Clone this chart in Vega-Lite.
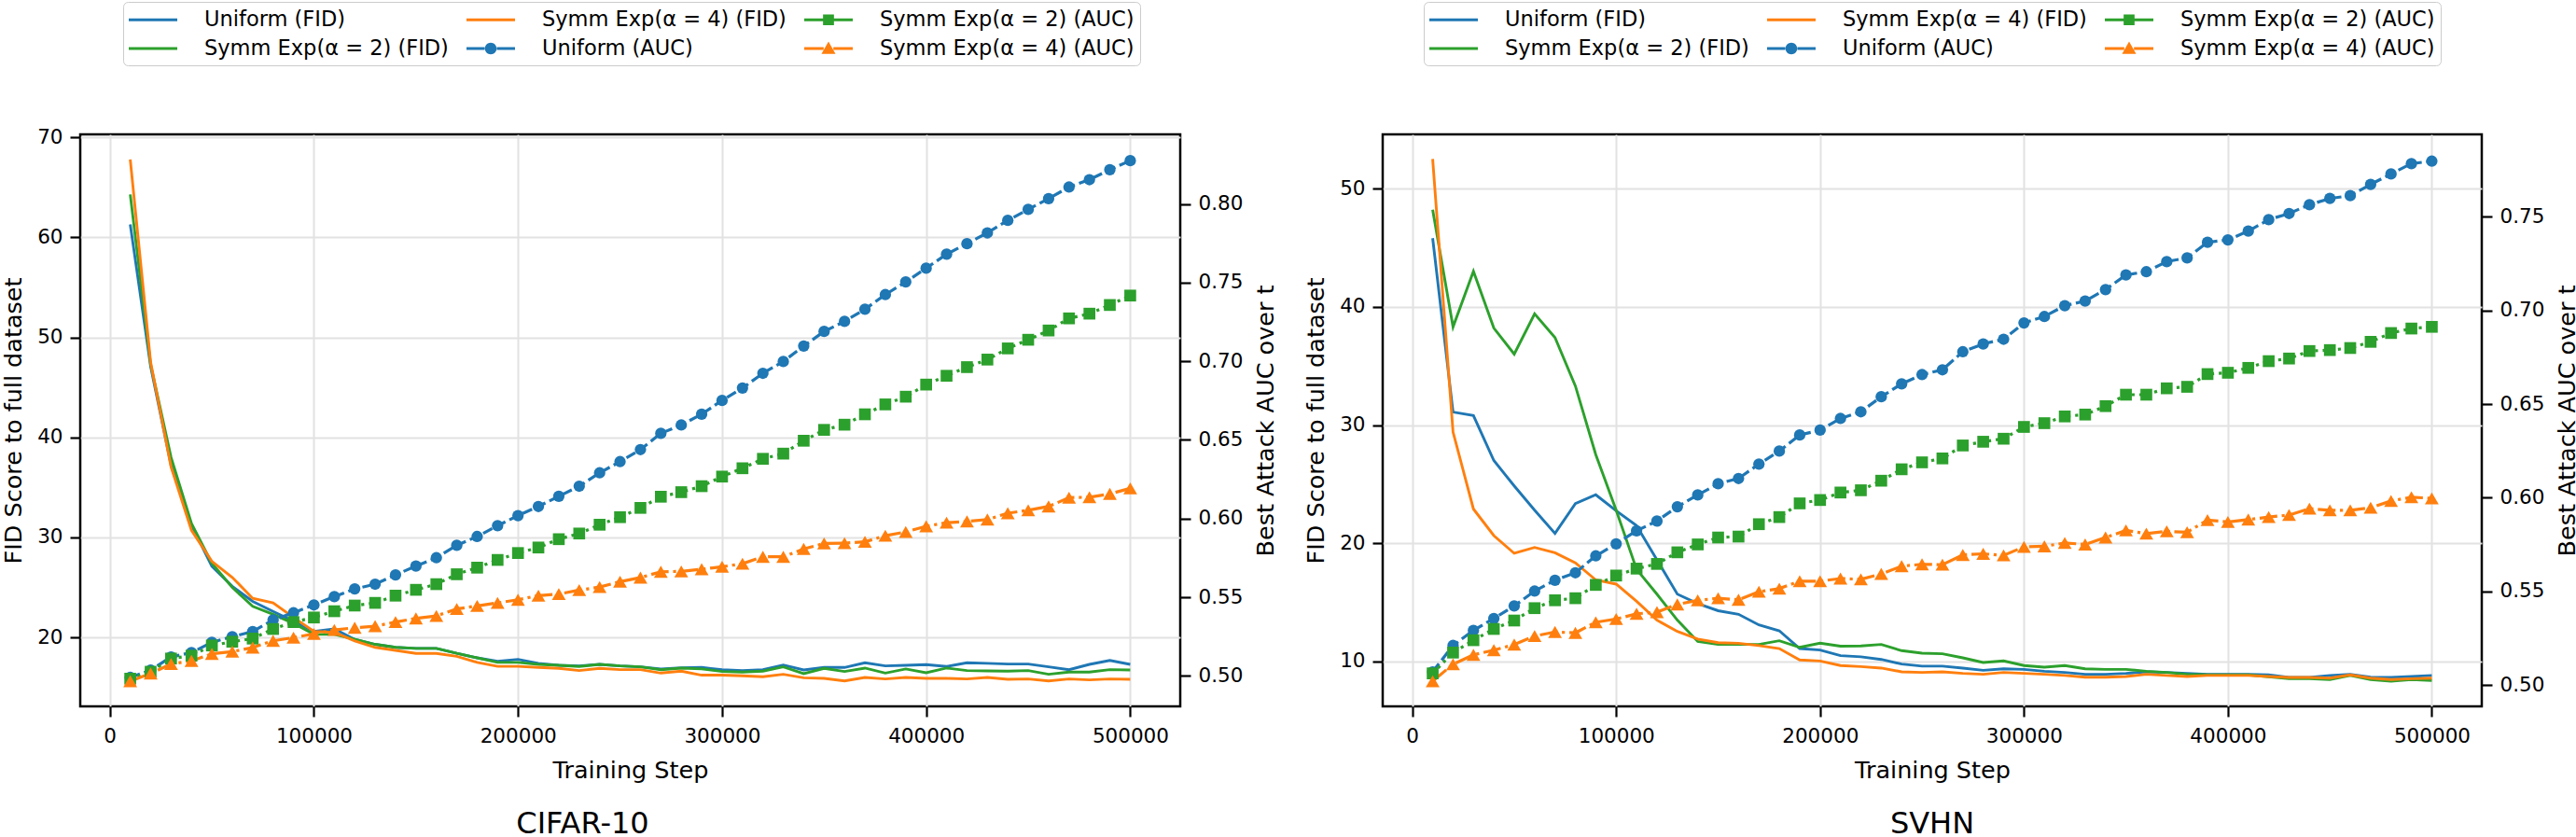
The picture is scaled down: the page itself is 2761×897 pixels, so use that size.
{
"$schema": "https://vega.github.io/schema/vega-lite/v6.json",
"padding": {"left": 1, "top": 0, "right": 0, "bottom": 0},
"bounds": "flush",
"spacing": 217,
"config": {
  "font": "DejaVu Sans",
  "view": {"stroke": "black", "strokeWidth": 2.5},
  "axis": {"labelFont": "DejaVu Sans", "titleFont": "DejaVu Sans", "labelFontSize": 21.5, "titleFontSize": 25.5, "titleFontWeight": "normal", "labelColor": "black", "titleColor": "black", "tickColor": "black", "tickSize": 11, "tickWidth": 2.2, "domain": false, "labelPadding": 8, "gridColor": "#e2e2e2", "gridWidth": 2, "labelFlush": false},
  "title": {"font": "DejaVu Sans", "fontSize": 32, "fontWeight": "normal", "color": "black"},
  "legend": {"labelFont": "DejaVu Sans", "labelFontSize": 22.5, "labelColor": "black", "labelLimit": 500}
},
"datasets": {
"cifar": [
{"step":10000,"uF":61.3,"e2F":64.3,"e4F":67.8,"uA":0.499,"e2A":0.4982,"e4A":0.4966},
{"step":20000,"uF":47.1,"e2F":47.3,"e4F":47.5,"uA":0.5036,"e2A":0.5026,"e4A":0.5015},
{"step":30000,"uF":37.2,"e2F":38.0,"e4F":37.05,"uA":0.512,"e2A":0.511,"e4A":0.5075},
{"step":40000,"uF":31.2,"e2F":31.4,"e4F":30.7,"uA":0.5148,"e2A":0.5128,"e4A":0.5095},
{"step":50000,"uF":27.1,"e2F":27.4,"e4F":27.6,"uA":0.5213,"e2A":0.5193,"e4A":0.514},
{"step":60000,"uF":25.1,"e2F":25.0,"e4F":26.0,"uA":0.5249,"e2A":0.5217,"e4A":0.5154},
{"step":70000,"uF":23.6,"e2F":23.1,"e4F":23.9,"uA":0.5282,"e2A":0.5237,"e4A":0.518},
{"step":80000,"uF":22.6,"e2F":22.3,"e4F":23.45,"uA":0.5356,"e2A":0.5298,"e4A":0.5223},
{"step":90000,"uF":21.6,"e2F":21.4,"e4F":22.0,"uA":0.5401,"e2A":0.5342,"e4A":0.5243},
{"step":100000,"uF":20.6,"e2F":20.3,"e4F":20.6,"uA":0.5451,"e2A":0.5371,"e4A":0.5267},
{"step":110000,"uF":20.85,"e2F":20.3,"e4F":20.5,"uA":0.5504,"e2A":0.5411,"e4A":0.5292},
{"step":120000,"uF":19.8,"e2F":19.8,"e4F":19.65,"uA":0.5553,"e2A":0.5447,"e4A":0.5306},
{"step":130000,"uF":19.3,"e2F":19.3,"e4F":19.0,"uA":0.5583,"e2A":0.5464,"e4A":0.5316},
{"step":140000,"uF":19.0,"e2F":19.0,"e4F":18.7,"uA":0.5642,"e2A":0.551,"e4A":0.5342},
{"step":150000,"uF":18.9,"e2F":18.9,"e4F":18.4,"uA":0.5698,"e2A":0.5547,"e4A":0.5365},
{"step":160000,"uF":18.9,"e2F":18.9,"e4F":18.4,"uA":0.5751,"e2A":0.5583,"e4A":0.5381},
{"step":170000,"uF":18.4,"e2F":18.4,"e4F":18.1,"uA":0.583,"e2A":0.5646,"e4A":0.5425},
{"step":180000,"uF":17.95,"e2F":17.95,"e4F":17.5,"uA":0.5886,"e2A":0.5688,"e4A":0.5445},
{"step":190000,"uF":17.6,"e2F":17.5,"e4F":17.1,"uA":0.5955,"e2A":0.5737,"e4A":0.5464},
{"step":200000,"uF":17.8,"e2F":17.5,"e4F":17.1,"uA":0.6019,"e2A":0.5781,"e4A":0.5484},
{"step":210000,"uF":17.4,"e2F":17.3,"e4F":17.0,"uA":0.6077,"e2A":0.5816,"e4A":0.551},
{"step":220000,"uF":17.2,"e2F":17.2,"e4F":16.9,"uA":0.6142,"e2A":0.5869,"e4A":0.552},
{"step":230000,"uF":17.15,"e2F":17.09,"e4F":16.68,"uA":0.6206,"e2A":0.5905,"e4A":0.5545},
{"step":240000,"uF":17.3,"e2F":17.3,"e4F":16.9,"uA":0.6291,"e2A":0.5961,"e4A":0.5565},
{"step":250000,"uF":17.15,"e2F":17.15,"e4F":16.77,"uA":0.6362,"e2A":0.6009,"e4A":0.5599},
{"step":260000,"uF":17.05,"e2F":17.05,"e4F":16.77,"uA":0.6439,"e2A":0.6068,"e4A":0.5625},
{"step":270000,"uF":16.84,"e2F":16.77,"e4F":16.43,"uA":0.6542,"e2A":0.6139,"e4A":0.5662},
{"step":280000,"uF":16.96,"e2F":16.93,"e4F":16.62,"uA":0.6595,"e2A":0.6168,"e4A":0.5664},
{"step":290000,"uF":16.99,"e2F":16.84,"e4F":16.22,"uA":0.6664,"e2A":0.6206,"e4A":0.5678},
{"step":300000,"uF":16.77,"e2F":16.59,"e4F":16.22,"uA":0.6751,"e2A":0.6267,"e4A":0.5694},
{"step":310000,"uF":16.68,"e2F":16.53,"e4F":16.15,"uA":0.683,"e2A":0.632,"e4A":0.5713},
{"step":320000,"uF":16.77,"e2F":16.62,"e4F":16.06,"uA":0.6924,"e2A":0.638,"e4A":0.5757},
{"step":330000,"uF":17.24,"e2F":17.05,"e4F":16.31,"uA":0.6999,"e2A":0.6413,"e4A":0.5757},
{"step":340000,"uF":16.74,"e2F":16.37,"e4F":15.96,"uA":0.7097,"e2A":0.6495,"e4A":0.5807},
{"step":350000,"uF":16.99,"e2F":16.9,"e4F":15.9,"uA":0.719,"e2A":0.6564,"e4A":0.5842},
{"step":360000,"uF":16.99,"e2F":16.59,"e4F":15.65,"uA":0.7254,"e2A":0.6597,"e4A":0.5844},
{"step":370000,"uF":17.46,"e2F":16.93,"e4F":15.99,"uA":0.7331,"e2A":0.6663,"e4A":0.5852},
{"step":380000,"uF":17.15,"e2F":16.43,"e4F":15.84,"uA":0.7424,"e2A":0.6726,"e4A":0.5891},
{"step":390000,"uF":17.21,"e2F":16.84,"e4F":15.99,"uA":0.7505,"e2A":0.6775,"e4A":0.5915},
{"step":400000,"uF":17.27,"e2F":16.46,"e4F":15.9,"uA":0.7592,"e2A":0.6852,"e4A":0.5951},
{"step":410000,"uF":17.09,"e2F":16.93,"e4F":15.9,"uA":0.7681,"e2A":0.6908,"e4A":0.5974},
{"step":420000,"uF":17.46,"e2F":16.68,"e4F":15.84,"uA":0.7748,"e2A":0.6963,"e4A":0.5982},
{"step":430000,"uF":17.4,"e2F":16.65,"e4F":15.99,"uA":0.7817,"e2A":0.7011,"e4A":0.5994},
{"step":440000,"uF":17.33,"e2F":16.62,"e4F":15.81,"uA":0.7896,"e2A":0.7082,"e4A":0.6034},
{"step":450000,"uF":17.33,"e2F":16.68,"e4F":15.84,"uA":0.7966,"e2A":0.7137,"e4A":0.6053},
{"step":460000,"uF":17.05,"e2F":16.31,"e4F":15.65,"uA":0.8034,"e2A":0.7196,"e4A":0.6077},
{"step":470000,"uF":16.77,"e2F":16.53,"e4F":15.84,"uA":0.8108,"e2A":0.7273,"e4A":0.6133},
{"step":480000,"uF":17.3,"e2F":16.53,"e4F":15.75,"uA":0.8155,"e2A":0.7303,"e4A":0.6136},
{"step":490000,"uF":17.7,"e2F":16.77,"e4F":15.84,"uA":0.8218,"e2A":0.7358,"e4A":0.6157},
{"step":500000,"uF":17.3,"e2F":16.74,"e4F":15.81,"uA":0.8276,"e2A":0.7418,"e4A":0.6192}
],
"svhn": [
{"step":10000,"uF":45.8,"e2F":48.2,"e4F":52.5,"uA":0.5071,"e2A":0.5063,"e4A":0.5021},
{"step":20000,"uF":31.1,"e2F":38.3,"e4F":29.4,"uA":0.5212,"e2A":0.5174,"e4A":0.5112},
{"step":30000,"uF":30.8,"e2F":43.0,"e4F":22.9,"uA":0.5292,"e2A":0.524,"e4A":0.5162},
{"step":40000,"uF":27.0,"e2F":38.2,"e4F":20.65,"uA":0.5356,"e2A":0.53,"e4A":0.5187},
{"step":50000,"uF":24.85,"e2F":36.0,"e4F":19.15,"uA":0.5423,"e2A":0.5345,"e4A":0.5217},
{"step":60000,"uF":22.8,"e2F":39.4,"e4F":19.65,"uA":0.5502,"e2A":0.5411,"e4A":0.5262},
{"step":70000,"uF":20.84,"e2F":37.4,"e4F":19.2,"uA":0.556,"e2A":0.5453,"e4A":0.5284},
{"step":80000,"uF":23.35,"e2F":33.3,"e4F":18.35,"uA":0.56,"e2A":0.5464,"e4A":0.5279},
{"step":90000,"uF":24.1,"e2F":27.5,"e4F":16.9,"uA":0.569,"e2A":0.5535,"e4A":0.5336},
{"step":100000,"uF":22.75,"e2F":22.8,"e4F":16.55,"uA":0.5754,"e2A":0.5585,"e4A":0.5353},
{"step":110000,"uF":21.5,"e2F":17.8,"e4F":15.1,"uA":0.5824,"e2A":0.5622,"e4A":0.5381},
{"step":120000,"uF":18.6,"e2F":15.7,"e4F":13.5,"uA":0.5876,"e2A":0.5647,"e4A":0.539},
{"step":130000,"uF":15.7,"e2F":13.5,"e4F":12.55,"uA":0.5952,"e2A":0.5709,"e4A":0.5431},
{"step":140000,"uF":14.9,"e2F":11.7,"e4F":11.9,"uA":0.6015,"e2A":0.5751,"e4A":0.5453},
{"step":150000,"uF":14.3,"e2F":11.45,"e4F":11.6,"uA":0.6075,"e2A":0.5788,"e4A":0.5464},
{"step":160000,"uF":14.0,"e2F":11.45,"e4F":11.55,"uA":0.6103,"e2A":0.5793,"e4A":0.5456},
{"step":170000,"uF":13.1,"e2F":11.45,"e4F":11.35,"uA":0.618,"e2A":0.5859,"e4A":0.5499},
{"step":180000,"uF":12.6,"e2F":11.76,"e4F":11.1,"uA":0.6249,"e2A":0.5897,"e4A":0.5515},
{"step":190000,"uF":11.1,"e2F":11.2,"e4F":10.13,"uA":0.6335,"e2A":0.597,"e4A":0.5555},
{"step":200000,"uF":10.97,"e2F":11.55,"e4F":10.05,"uA":0.6361,"e2A":0.5988,"e4A":0.5555},
{"step":210000,"uF":10.5,"e2F":11.3,"e4F":9.66,"uA":0.6423,"e2A":0.6028,"e4A":0.5569},
{"step":220000,"uF":10.4,"e2F":11.32,"e4F":9.57,"uA":0.6459,"e2A":0.604,"e4A":0.5565},
{"step":230000,"uF":10.18,"e2F":11.45,"e4F":9.45,"uA":0.6539,"e2A":0.6091,"e4A":0.5594},
{"step":240000,"uF":9.79,"e2F":10.92,"e4F":9.13,"uA":0.6608,"e2A":0.6152,"e4A":0.5635},
{"step":250000,"uF":9.61,"e2F":10.71,"e4F":9.08,"uA":0.6657,"e2A":0.6189,"e4A":0.5645},
{"step":260000,"uF":9.61,"e2F":10.66,"e4F":9.13,"uA":0.6683,"e2A":0.621,"e4A":0.5643},
{"step":270000,"uF":9.45,"e2F":10.31,"e4F":9.0,"uA":0.6779,"e2A":0.6279,"e4A":0.5695},
{"step":280000,"uF":9.26,"e2F":9.92,"e4F":8.92,"uA":0.6821,"e2A":0.6299,"e4A":0.5701},
{"step":290000,"uF":9.39,"e2F":10.05,"e4F":9.08,"uA":0.6846,"e2A":0.6315,"e4A":0.5693},
{"step":300000,"uF":9.34,"e2F":9.66,"e4F":9.0,"uA":0.6933,"e2A":0.6378,"e4A":0.5738},
{"step":310000,"uF":9.18,"e2F":9.52,"e4F":8.92,"uA":0.6967,"e2A":0.6398,"e4A":0.5741},
{"step":320000,"uF":9.08,"e2F":9.66,"e4F":8.82,"uA":0.7025,"e2A":0.6434,"e4A":0.5759},
{"step":330000,"uF":8.92,"e2F":9.39,"e4F":8.68,"uA":0.705,"e2A":0.6444,"e4A":0.5751},
{"step":340000,"uF":8.92,"e2F":9.34,"e4F":8.68,"uA":0.7111,"e2A":0.6489,"e4A":0.5788},
{"step":350000,"uF":9.0,"e2F":9.34,"e4F":8.74,"uA":0.7189,"e2A":0.655,"e4A":0.5826},
{"step":360000,"uF":9.13,"e2F":9.18,"e4F":8.92,"uA":0.7206,"e2A":0.655,"e4A":0.5809},
{"step":370000,"uF":9.08,"e2F":9.08,"e4F":8.82,"uA":0.726,"e2A":0.6584,"e4A":0.5821},
{"step":380000,"uF":9.0,"e2F":8.92,"e4F":8.74,"uA":0.728,"e2A":0.6592,"e4A":0.5816},
{"step":390000,"uF":8.92,"e2F":8.87,"e4F":8.82,"uA":0.7363,"e2A":0.666,"e4A":0.5881},
{"step":400000,"uF":8.92,"e2F":8.87,"e4F":8.82,"uA":0.7376,"e2A":0.6667,"e4A":0.5871},
{"step":410000,"uF":8.92,"e2F":8.87,"e4F":8.82,"uA":0.7423,"e2A":0.6693,"e4A":0.5884},
{"step":420000,"uF":8.87,"e2F":8.71,"e4F":8.74,"uA":0.7484,"e2A":0.6729,"e4A":0.5897},
{"step":430000,"uF":8.66,"e2F":8.55,"e4F":8.66,"uA":0.7517,"e2A":0.6743,"e4A":0.5908},
{"step":440000,"uF":8.66,"e2F":8.55,"e4F":8.66,"uA":0.7564,"e2A":0.6783,"e4A":0.5942},
{"step":450000,"uF":8.82,"e2F":8.48,"e4F":8.6,"uA":0.7597,"e2A":0.6788,"e4A":0.5933},
{"step":460000,"uF":8.92,"e2F":8.82,"e4F":8.87,"uA":0.7612,"e2A":0.6799,"e4A":0.5933},
{"step":470000,"uF":8.68,"e2F":8.48,"e4F":8.6,"uA":0.7672,"e2A":0.6832,"e4A":0.5947},
{"step":480000,"uF":8.66,"e2F":8.34,"e4F":8.48,"uA":0.7728,"e2A":0.6879,"e4A":0.5983},
{"step":490000,"uF":8.74,"e2F":8.48,"e4F":8.55,"uA":0.7783,"e2A":0.6903,"e4A":0.6003},
{"step":500000,"uF":8.82,"e2F":8.4,"e4F":8.6,"uA":0.7796,"e2A":0.6912,"e4A":0.5997}
]
},
"hconcat": [
{
  "width": 1179, "height": 613,
  "data": {"name": "cifar"},
  "title": {"text": "CIFAR-10", "orient": "bottom", "frame": "group", "anchor": "middle", "dx": -51, "offset": 29},
  "layer": [
    {
      "transform": [{"fold": ["uF", "e2F", "e4F"], "as": ["series", "value"]}],
      "mark": {"type": "line", "strokeWidth": 2.9},
      "encoding": {
        "x": {"field": "step", "type": "quantitative", "scale": {"domain": [-14500, 524500], "nice": false, "zero": false}, "axis": {"values": [0, 100000, 200000, 300000, 400000, 500000], "format": "d", "title": "Training Step", "grid": true, "labelPadding": 10, "titlePadding": 14}},
        "y": {"field": "value", "type": "quantitative", "scale": {"domain": [13.1, 70.3], "nice": false, "zero": false}, "axis": {"orient": "left", "title": "FID Score to full dataset", "values": [20, 30, 40, 50, 60, 70], "grid": true, "titlePadding": 12}},
        "stroke": {"field": "series", "type": "nominal", "scale": {"domain": ["uA", "e2A", "e4A", "uF", "e2F", "e4F"], "range": ["#1f77b4", "#2ca02c", "#ff7f0e", "#1f77b4", "#2ca02c", "#ff7f0e"]}, "legend": null}
      }
    },
    {
      "transform": [{"fold": ["uA", "e2A", "e4A"], "as": ["series", "value"]}],
      "encoding": {
        "x": {"field": "step", "type": "quantitative", "scale": {"domain": [-14500, 524500], "nice": false, "zero": false}, "axis": {"values": [0, 100000, 200000, 300000, 400000, 500000], "format": "d", "title": "Training Step", "grid": true, "labelPadding": 10, "titlePadding": 14}},
        "y": {"field": "value", "type": "quantitative", "scale": {"domain": [0.4806, 0.8443], "nice": false, "zero": false}, "axis": {"orient": "right", "title": "Best Attack AUC over t", "values": [0.5, 0.55, 0.6, 0.65, 0.7, 0.75, 0.8], "format": ".2f", "grid": false, "titleAngle": 270, "titleBaseline": "top", "titlePadding": 13}}
      },
      "layer": [
        {
          "mark": {"type": "line", "strokeWidth": 3.2},
          "encoding": {
            "stroke": {"field": "series", "type": "nominal", "scale": {"domain": ["uA", "e2A", "e4A", "uF", "e2F", "e4F"], "range": ["#1f77b4", "#2ca02c", "#ff7f0e", "#1f77b4", "#2ca02c", "#ff7f0e"]}, "legend": null},
            "strokeDash": {"field": "series", "type": "nominal", "scale": {"domain": ["uA", "e2A", "e4A"], "range": [[11, 4.8], [3.2, 5], [19, 4.8, 3.2, 4.8]]}, "legend": null}
          }
        },
        {
          "mark": {"type": "point", "filled": true, "opacity": 1, "strokeWidth": 0},
          "encoding": {
            "fill": {"field": "series", "type": "nominal", "scale": {"domain": ["uA", "e2A", "e4A", "uF", "e2F", "e4F"], "range": ["#1f77b4", "#2ca02c", "#ff7f0e", "#1f77b4", "#2ca02c", "#ff7f0e"]}, "legend": null},
            "shape": {"condition": [{"test": "datum.series === 'uA'", "value": "circle"}, {"test": "datum.series === 'e2A'", "value": "square"}], "value": "triangle-up"},
            "size": {"condition": [{"test": "datum.series === 'uA'", "value": 150}, {"test": "datum.series === 'e2A'", "value": 160}], "value": 220}
          }
        },
        {
          "transform": [{"filter": "false"}],
          "mark": {"type": "point", "filled": true, "opacity": 1},
          "encoding": {
            "color": {"field": "series", "type": "nominal", "scale": {"domain": ["uF", "e2F", "e4F", "uA", "e2A", "e4A"], "range": ["#1f77b4", "#2ca02c", "#ff7f0e", "#1f77b4", "#2ca02c", "#ff7f0e"]},
              "legend": {"orient": "none", "legendX": 46, "legendY": -142, "columns": 3, "title": null, "symbolSize": 676, "symbolOffset": 13, "symbolStrokeWidth": 0, "labelOffset": 42, "rowPadding": 6, "columnPadding": 19, "padding": 6, "strokeColor": "#cccccc", "cornerRadius": 5, "fillColor": "white",
                "labelExpr": "datum.value == 'uF' ? 'Uniform (FID)' : datum.value == 'e2F' ? 'Symm Exp(α = 2) (FID)' : datum.value == 'e4F' ? 'Symm Exp(α = 4) (FID)' : datum.value == 'uA' ? 'Uniform (AUC)' : datum.value == 'e2A' ? 'Symm Exp(α = 2) (AUC)' : 'Symm Exp(α = 4) (AUC)'"}},
            "shape": {"field": "series", "type": "nominal", "scale": {"domain": ["uF", "e2F", "e4F", "uA", "e2A", "e4A"], "range": ["M-2,-0.12H2V0.12H-2Z", "M-2,-0.12H2V0.12H-2Z", "M-2,-0.12H2V0.12H-2Z", "M-2,-0.12H-0.5V0.12H-2Z M0.5,-0.12H2V0.12H0.5Z M-0.48,0A0.48,0.48,0,1,1,0.48,0A0.48,0.48,0,1,1,-0.48,0Z", "M-2,-0.12H-0.45V0.12H-2Z M0.45,-0.12H2V0.12H0.45Z M-0.45,-0.45H0.45V0.45H-0.45Z", "M-2,-0.12H-0.4V0.12H-2Z M0.4,-0.12H2V0.12H0.4Z M0,-0.58L0.58,0.44L-0.58,0.44Z"]},
              "legend": {"orient": "none", "legendX": 46, "legendY": -142, "columns": 3, "title": null, "symbolSize": 676, "symbolOffset": 13, "symbolStrokeWidth": 0, "labelOffset": 42, "rowPadding": 6, "columnPadding": 19, "padding": 6, "strokeColor": "#cccccc", "cornerRadius": 5, "fillColor": "white",
                "labelExpr": "datum.value == 'uF' ? 'Uniform (FID)' : datum.value == 'e2F' ? 'Symm Exp(α = 2) (FID)' : datum.value == 'e4F' ? 'Symm Exp(α = 4) (FID)' : datum.value == 'uA' ? 'Uniform (AUC)' : datum.value == 'e2A' ? 'Symm Exp(α = 2) (AUC)' : 'Symm Exp(α = 4) (AUC)'"}}
          }
        }
      ]
    }
  ],
  "resolve": {"scale": {"y": "independent"}}
},
{
  "width": 1178, "height": 613,
  "data": {"name": "svhn"},
  "title": {"text": "SVHN", "orient": "bottom", "frame": "group", "anchor": "middle", "dx": 0, "offset": 29},
  "layer": [
    {
      "transform": [{"fold": ["uF", "e2F", "e4F"], "as": ["series", "value"]}],
      "mark": {"type": "line", "strokeWidth": 2.9},
      "encoding": {
        "x": {"field": "step", "type": "quantitative", "scale": {"domain": [-14500, 524500], "nice": false, "zero": false}, "axis": {"values": [0, 100000, 200000, 300000, 400000, 500000], "format": "d", "title": "Training Step", "grid": true, "labelPadding": 10, "titlePadding": 14}},
        "y": {"field": "value", "type": "quantitative", "scale": {"domain": [6.21, 54.58], "nice": false, "zero": false}, "axis": {"orient": "left", "title": "FID Score to full dataset", "values": [10, 20, 30, 40, 50], "grid": true, "titlePadding": 12}},
        "stroke": {"field": "series", "type": "nominal", "scale": {"domain": ["uA", "e2A", "e4A", "uF", "e2F", "e4F"], "range": ["#1f77b4", "#2ca02c", "#ff7f0e", "#1f77b4", "#2ca02c", "#ff7f0e"]}, "legend": null}
      }
    },
    {
      "transform": [{"fold": ["uA", "e2A", "e4A"], "as": ["series", "value"]}],
      "encoding": {
        "x": {"field": "step", "type": "quantitative", "scale": {"domain": [-14500, 524500], "nice": false, "zero": false}, "axis": {"values": [0, 100000, 200000, 300000, 400000, 500000], "format": "d", "title": "Training Step", "grid": true, "labelPadding": 10, "titlePadding": 14}},
        "y": {"field": "value", "type": "quantitative", "scale": {"domain": [0.4887, 0.7939], "nice": false, "zero": false}, "axis": {"orient": "right", "title": "Best Attack AUC over t", "values": [0.5, 0.55, 0.6, 0.65, 0.7, 0.75], "format": ".2f", "grid": false, "titleAngle": 270, "titleBaseline": "top", "titlePadding": 13}}
      },
      "layer": [
        {
          "mark": {"type": "line", "strokeWidth": 3.2},
          "encoding": {
            "stroke": {"field": "series", "type": "nominal", "scale": {"domain": ["uA", "e2A", "e4A", "uF", "e2F", "e4F"], "range": ["#1f77b4", "#2ca02c", "#ff7f0e", "#1f77b4", "#2ca02c", "#ff7f0e"]}, "legend": null},
            "strokeDash": {"field": "series", "type": "nominal", "scale": {"domain": ["uA", "e2A", "e4A"], "range": [[11, 4.8], [3.2, 5], [19, 4.8, 3.2, 4.8]]}, "legend": null}
          }
        },
        {
          "mark": {"type": "point", "filled": true, "opacity": 1, "strokeWidth": 0},
          "encoding": {
            "fill": {"field": "series", "type": "nominal", "scale": {"domain": ["uA", "e2A", "e4A", "uF", "e2F", "e4F"], "range": ["#1f77b4", "#2ca02c", "#ff7f0e", "#1f77b4", "#2ca02c", "#ff7f0e"]}, "legend": null},
            "shape": {"condition": [{"test": "datum.series === 'uA'", "value": "circle"}, {"test": "datum.series === 'e2A'", "value": "square"}], "value": "triangle-up"},
            "size": {"condition": [{"test": "datum.series === 'uA'", "value": 150}, {"test": "datum.series === 'e2A'", "value": 160}], "value": 220}
          }
        },
        {
          "transform": [{"filter": "false"}],
          "mark": {"type": "point", "filled": true, "opacity": 1},
          "encoding": {
            "color": {"field": "series", "type": "nominal", "scale": {"domain": ["uF", "e2F", "e4F", "uA", "e2A", "e4A"], "range": ["#1f77b4", "#2ca02c", "#ff7f0e", "#1f77b4", "#2ca02c", "#ff7f0e"]},
              "legend": {"orient": "none", "legendX": 44, "legendY": -142, "columns": 3, "title": null, "symbolSize": 676, "symbolOffset": 13, "symbolStrokeWidth": 0, "labelOffset": 42, "rowPadding": 6, "columnPadding": 19, "padding": 6, "strokeColor": "#cccccc", "cornerRadius": 5, "fillColor": "white",
                "labelExpr": "datum.value == 'uF' ? 'Uniform (FID)' : datum.value == 'e2F' ? 'Symm Exp(α = 2) (FID)' : datum.value == 'e4F' ? 'Symm Exp(α = 4) (FID)' : datum.value == 'uA' ? 'Uniform (AUC)' : datum.value == 'e2A' ? 'Symm Exp(α = 2) (AUC)' : 'Symm Exp(α = 4) (AUC)'"}},
            "shape": {"field": "series", "type": "nominal", "scale": {"domain": ["uF", "e2F", "e4F", "uA", "e2A", "e4A"], "range": ["M-2,-0.12H2V0.12H-2Z", "M-2,-0.12H2V0.12H-2Z", "M-2,-0.12H2V0.12H-2Z", "M-2,-0.12H-0.5V0.12H-2Z M0.5,-0.12H2V0.12H0.5Z M-0.48,0A0.48,0.48,0,1,1,0.48,0A0.48,0.48,0,1,1,-0.48,0Z", "M-2,-0.12H-0.45V0.12H-2Z M0.45,-0.12H2V0.12H0.45Z M-0.45,-0.45H0.45V0.45H-0.45Z", "M-2,-0.12H-0.4V0.12H-2Z M0.4,-0.12H2V0.12H0.4Z M0,-0.58L0.58,0.44L-0.58,0.44Z"]},
              "legend": {"orient": "none", "legendX": 44, "legendY": -142, "columns": 3, "title": null, "symbolSize": 676, "symbolOffset": 13, "symbolStrokeWidth": 0, "labelOffset": 42, "rowPadding": 6, "columnPadding": 19, "padding": 6, "strokeColor": "#cccccc", "cornerRadius": 5, "fillColor": "white",
                "labelExpr": "datum.value == 'uF' ? 'Uniform (FID)' : datum.value == 'e2F' ? 'Symm Exp(α = 2) (FID)' : datum.value == 'e4F' ? 'Symm Exp(α = 4) (FID)' : datum.value == 'uA' ? 'Uniform (AUC)' : datum.value == 'e2A' ? 'Symm Exp(α = 2) (AUC)' : 'Symm Exp(α = 4) (AUC)'"}}
          }
        }
      ]
    }
  ],
  "resolve": {"scale": {"y": "independent"}}
}
],
"resolve": {"scale": {"color": "independent", "stroke": "independent", "fill": "independent", "shape": "independent", "strokeDash": "independent", "size": "independent"}, "legend": {"color": "independent", "shape": "independent"}}
}
